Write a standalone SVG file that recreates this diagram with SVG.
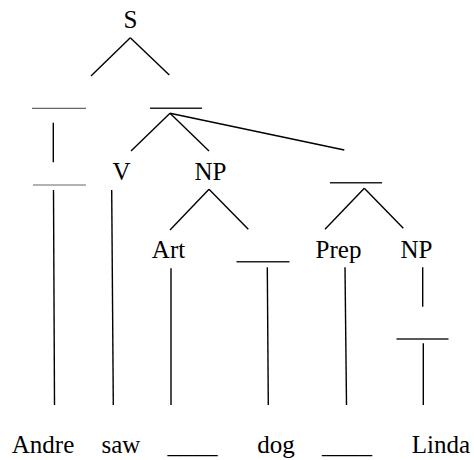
<svg xmlns="http://www.w3.org/2000/svg" width="474" height="460" viewBox="0 0 474 460">
<style>
text{font-family:"Liberation Serif","Times New Roman",serif;font-size:25px;fill:#000;text-anchor:middle}
line{stroke:#000;stroke-width:1.4;stroke-linecap:butt}
.bar{stroke:#222}
.thin{stroke:#666;stroke-width:1.2}
</style>
<rect width="474" height="460" fill="#fff"/>
<g id="n-S"><text x="130.5" y="28">S</text></g>
<g id="n-bar1"><line class="thin" x1="32" y1="108.3" x2="86" y2="108.3"/></g>
<g id="n-bar2"><line class="bar" x1="150" y1="108.3" x2="202" y2="108.3"/></g>
<g id="n-bar1b"><line class="thin" x1="33" y1="185" x2="86" y2="185"/></g>
<g id="n-V"><text x="121.5" y="180">V</text></g>
<g id="n-NP1"><text x="210.5" y="180">NP</text></g>
<g id="n-bar3"><line class="bar" x1="330" y1="182.7" x2="382" y2="182.7"/></g>
<g id="n-Art"><text x="168.5" y="258">Art</text></g>
<g id="n-bar4"><line class="bar" x1="236.5" y1="261.7" x2="289.5" y2="261.7"/></g>
<g id="n-Prep"><text x="338.5" y="258">Prep</text></g>
<g id="n-NP2"><text x="416.5" y="258">NP</text></g>
<g id="n-bar5"><line class="bar" x1="396.5" y1="339" x2="448.5" y2="339"/></g>
<g id="w-Andre"><text x="43" y="452.5">Andre</text></g>
<g id="w-saw"><text x="121" y="452.5">saw</text></g>
<g id="w-blank1"><text x="192.5" y="452.5">____</text></g>
<g id="w-dog"><text x="276" y="452.5">dog</text></g>
<g id="w-blank2"><text x="347" y="452.5">____</text></g>
<g id="w-Linda"><text x="441" y="452.5">Linda</text></g>
<g id="connectors">
<line x1="130.3" y1="37.7" x2="91" y2="76"/>
<line x1="130.3" y1="37.7" x2="169.3" y2="75"/>
<line x1="53.3" y1="122.7" x2="53.3" y2="162.3"/>
<line x1="53.5" y1="190" x2="54.5" y2="405"/>
<line x1="111.7" y1="190" x2="113.3" y2="405"/>
<line x1="170" y1="113.3" x2="131" y2="151"/>
<line x1="170" y1="113.3" x2="209" y2="151"/>
<line x1="170" y1="113.3" x2="344.3" y2="150"/>
<line x1="209" y1="189.3" x2="170" y2="230"/>
<line x1="209" y1="189.3" x2="248.3" y2="229.3"/>
<line x1="364.3" y1="188.3" x2="325" y2="229.3"/>
<line x1="364.3" y1="188.3" x2="403.3" y2="228.3"/>
<line x1="171" y1="268.3" x2="171" y2="405"/>
<line x1="267.3" y1="267.3" x2="268.3" y2="405"/>
<line x1="345" y1="267.3" x2="346.5" y2="405"/>
<line x1="422.7" y1="267.3" x2="422.7" y2="306.7"/>
<line x1="423.3" y1="343.3" x2="423.3" y2="405"/>
</g>
</svg>
